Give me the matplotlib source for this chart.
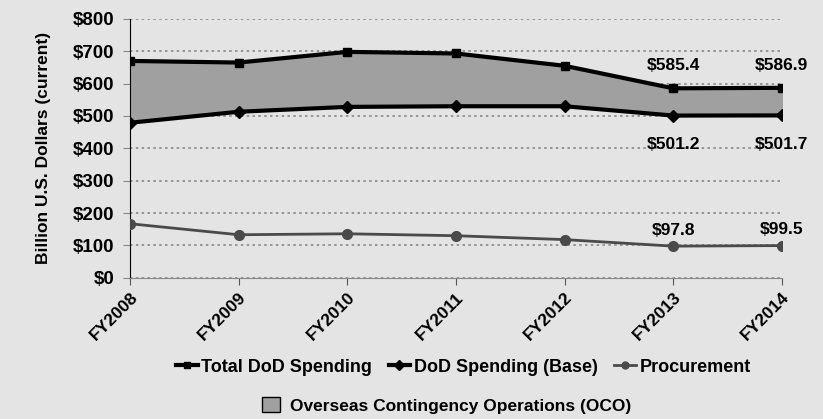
import matplotlib.pyplot as plt
from matplotlib.patches import Patch
from matplotlib.lines import Line2D

years = ["FY2008", "FY2009", "FY2010", "FY2011", "FY2012", "FY2013", "FY2014"]
total = [670, 665, 698, 693, 655, 585.4, 586.9]
base = [479, 513, 528, 530, 530, 501.2, 501.7]
procurement = [167, 133, 136, 130, 118, 97.8, 99.5]

plt.rcParams["font.family"] = ["Liberation Sans", "DejaVu Sans"]
plt.rcParams["font.weight"] = "bold"

bg = "#e4e4e4"
fig = plt.figure(figsize=(8.23, 4.19), dpi=100, facecolor=bg)
ax = fig.add_axes([0.158, 0.337, 0.792, 0.618], facecolor=bg)

x = list(range(len(years)))
ax.fill_between(x, base, total, color="#a0a0a0", zorder=1)
ax.plot(x, total, color="black", lw=3, marker="s", ms=6, zorder=3)
ax.plot(x, base, color="black", lw=3, marker="D", ms=6, zorder=3)
ax.plot(x, procurement, color="#4a4a4a", lw=2, marker="o", ms=7, zorder=3)

for i in (5, 6):
    ax.annotate(f"${total[i]:.1f}", (x[i], total[i]), xytext=(0, 13),
                textcoords="offset points", ha="center", fontsize=12.5, weight="bold")
    ax.annotate(f"${base[i]:.1f}", (x[i], base[i]), xytext=(0, -24),
                textcoords="offset points", ha="center", fontsize=12.5, weight="bold")
    ax.annotate(f"${procurement[i]:.1f}", (x[i], procurement[i]), xytext=(0, 8),
                textcoords="offset points", ha="center", fontsize=12.5, weight="bold")

ax.set_xlim(0, len(years) - 1)
ax.set_ylim(0, 800)
ax.set_yticks(range(0, 801, 100))
ax.set_yticklabels([f"${v}" for v in range(0, 801, 100)], fontsize=13.5, weight="bold")
ax.set_xticks(x)
ax.set_xticklabels(years, rotation=45, ha="right", rotation_mode="anchor",
                   fontsize=12.5, weight="bold")
ax.grid(axis="y", linestyle=(0, (1.5, 2)), color="#888888", lw=1.2)
ax.set_axisbelow(True)
for s in ("top", "right"):
    ax.spines[s].set_visible(False)
ax.spines["left"].set_color("black")
ax.spines["bottom"].set_color("#888888")
ax.tick_params(axis="y", length=5, color="#888888", pad=6)
ax.tick_params(axis="x", length=5, color="#555555")
ax.set_ylabel("Billion U.S. Dollars (current)", fontsize=12.5, weight="bold",
              labelpad=16)

handles = [
    Line2D([], [], color="black", lw=3, marker="s", ms=5),
    Line2D([], [], color="black", lw=3, marker="D", ms=5),
    Line2D([], [], color="#4a4a4a", lw=2, marker="o", ms=5),
]
leg1 = fig.legend(handles, ["Total DoD Spending", "DoD Spending (Base)", "Procurement"],
                  loc="center", bbox_to_anchor=(0.563, 0.124), ncol=3, frameon=False,
                  handlelength=1.2, handletextpad=0.2, columnspacing=0.9,
                  prop={"size": 13, "weight": "bold"})
leg2 = fig.legend([Patch(facecolor="#a0a0a0", edgecolor="black")],
                  ["Overseas Contingency Operations (OCO)"],
                  loc="center", bbox_to_anchor=(0.543, 0.033), frameon=False,
                  handlelength=1.0, handleheight=1.0, handletextpad=0.6,
                  prop={"size": 12.5, "weight": "bold"})

fig.savefig("out.png", dpi=100, facecolor=bg)
